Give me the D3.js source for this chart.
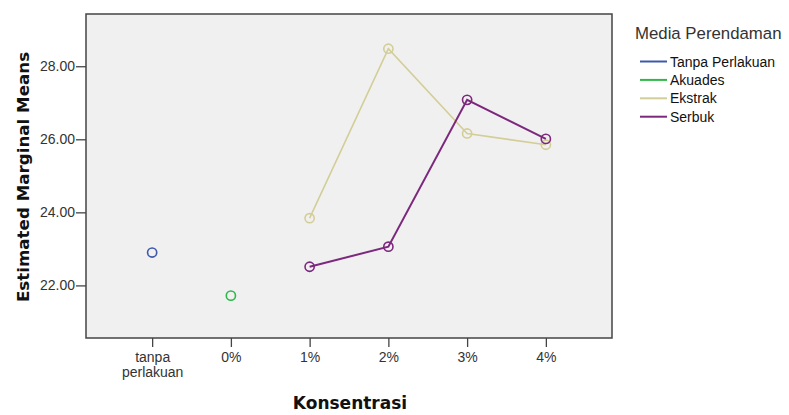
<!DOCTYPE html>
<html>
<head>
<meta charset="utf-8">
<script src="https://cdn.jsdelivr.net/npm/d3@7/dist/d3.min.js"></script>
<style>
  html, body { margin: 0; padding: 0; background: #ffffff; }
  svg { display: block; font-family: "Liberation Sans", Arial, sans-serif; }
</style>
</head>
<body>
<svg id="chart" width="789" height="415"></svg>
<script>
// Categories along the x axis
const categories = ["tanpa perlakuan", "0%", "1%", "2%", "3%", "4%"];
// Y tick values
const yTicks = [22, 24, 26, 28];
// Series names and colours
const seriesNames = ["Tanpa Perlakuan", "Akuades", "Ekstrak", "Serbuk"];
const seriesColors = ["#3e58ac", "#2eb848", "#d3ce97", "#7c287d"];
// Estimated marginal means per series (null where the cell is empty)
const tanpaValues   = [22.90, null, null, null, null, null];
const akuadesValues = [null, 21.72, null, null, null, null];
const ekstrakValues = [null, null, 23.84, 28.48, 26.16, 25.85];
const serbukValues  = [null, null, 22.51, 23.06, 27.08, 26.01];
const seriesValues = [tanpaValues, akuadesValues, ekstrakValues, serbukValues];

const svg = d3.select("#chart");
const frame = { left: 86, top: 14, right: 612, bottom: 338 };
const labelFont = "Liberation Sans, Arial, sans-serif";
const titleFont = "DejaVu Sans, Verdana, sans-serif";

const x = d3.scalePoint()
  .domain(categories)
  .range([frame.left, frame.right])
  .padding(0.84);

const y = d3.scaleLinear()
  .domain([20.56, 29.43])
  .range([frame.bottom, frame.top]);

// plot background
svg.append("rect")
  .attr("x", frame.left).attr("y", frame.top)
  .attr("width", frame.right - frame.left)
  .attr("height", frame.bottom - frame.top)
  .attr("fill", "#f0f0f0");

// y axis
const yAxis = svg.append("g")
  .attr("transform", `translate(${frame.left},0)`)
  .call(d3.axisLeft(y).tickValues(yTicks).tickFormat(d3.format(".2f")).tickSize(10).tickPadding(1));
yAxis.select(".domain").remove();
yAxis.selectAll("line").attr("stroke", "#444").attr("stroke-width", 1.3);
yAxis.selectAll("text").attr("fill", "#333").attr("font-size", 14)
  .attr("font-family", labelFont);

// x axis
const xAxis = svg.append("g")
  .attr("transform", `translate(0,${frame.bottom})`)
  .call(d3.axisBottom(x).tickSize(9).tickFormat(() => ""));
xAxis.select(".domain").remove();
xAxis.selectAll("line").attr("stroke", "#444").attr("stroke-width", 1.3);
xAxis.selectAll(".tick").each(function(d) {
  const t = d3.select(this).select("text")
    .attr("fill", "#333").attr("font-size", 14)
    .attr("font-family", labelFont)
    .attr("y", 0).attr("dy", 0);
  const words = d === "tanpa perlakuan" ? ["tanpa", "perlakuan"] : [d];
  words.forEach((w, i) => {
    t.append("tspan").attr("x", 0).attr("y", 24 + i * 15).text(w);
  });
});

// frame border
svg.append("rect")
  .attr("x", frame.left).attr("y", frame.top)
  .attr("width", frame.right - frame.left)
  .attr("height", frame.bottom - frame.top)
  .attr("fill", "none")
  .attr("stroke", "#444")
  .attr("stroke-width", 1.5);

// series lines and markers
const line = d3.line()
  .defined(d => d.v !== null)
  .x(d => x(d.c))
  .y(d => y(d.v));

seriesValues.forEach((vals, i) => {
  const pts = vals.map((v, j) => ({ c: categories[j], v }));
  const color = seriesColors[i];
  svg.append("path")
    .datum(pts)
    .attr("d", line)
    .attr("fill", "none")
    .attr("stroke", color)
    .attr("stroke-width", i === 3 ? 2 : 1.6);
  svg.append("g").selectAll("circle")
    .data(pts.filter(d => d.v !== null))
    .join("circle")
    .attr("cx", d => x(d.c))
    .attr("cy", d => y(d.v))
    .attr("r", 4.6)
    .attr("fill", "none")
    .attr("stroke", color)
    .attr("stroke-width", 1.6);
});

// axis titles
svg.append("text")
  .attr("x", (frame.left + frame.right) / 2 + 1)
  .attr("y", 409)
  .attr("text-anchor", "middle")
  .attr("font-family", titleFont)
  .attr("font-size", 17)
  .attr("font-weight", "bold")
  .attr("fill", "#111")
  .text("Konsentrasi");

svg.append("text")
  .attr("transform", `translate(29,177) rotate(-90)`)
  .attr("text-anchor", "middle")
  .attr("font-family", titleFont)
  .attr("font-size", 16.7)
  .attr("font-weight", "bold")
  .attr("fill", "#111")
  .text("Estimated Marginal Means");

// legend
const legend = svg.append("g");
legend.append("text")
  .attr("x", 635).attr("y", 39)
  .attr("font-size", 16.8)
  .attr("fill", "#333")
  .text("Media Perendaman");
seriesNames.forEach((name, i) => {
  const yy = 61.5 + i * 18.4;
  legend.append("line")
    .attr("x1", 640).attr("x2", 667)
    .attr("y1", yy).attr("y2", yy)
    .attr("stroke", seriesColors[i])
    .attr("stroke-width", 2);
  legend.append("text")
    .attr("x", 670).attr("y", yy + 5)
    .attr("font-size", 14)
    .attr("fill", "#111")
    .text(name);
});
</script>
</body>
</html>
